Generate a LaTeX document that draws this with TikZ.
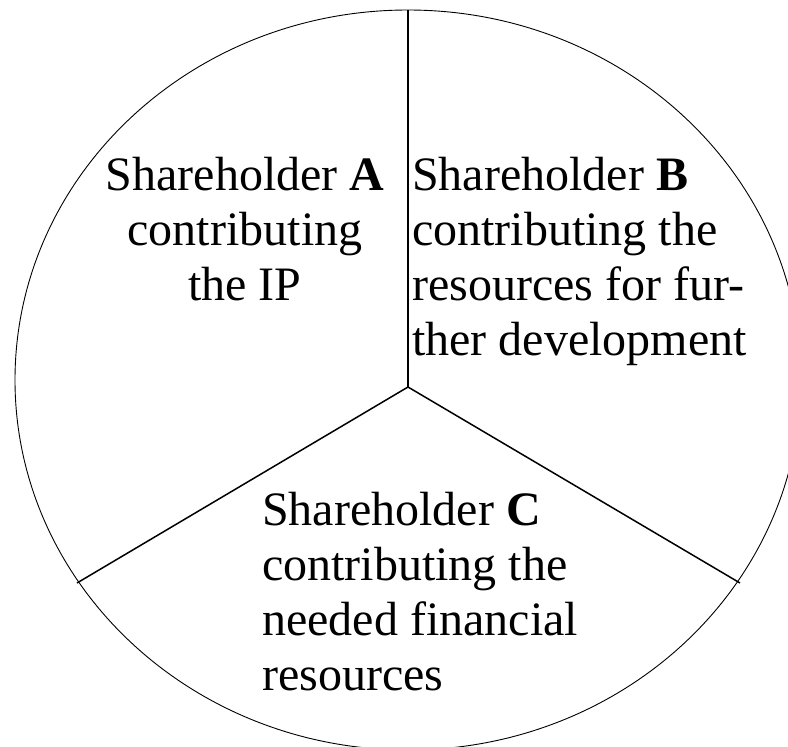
\documentclass[tikz,border=0pt]{standalone}
\usepackage{fontspec}
\setmainfont{Liberation Serif}
\begin{document}
\begin{tikzpicture}[x=1pt,y=-1pt,
  rim/.style={line width=0.9pt},
  spoke/.style={line width=1.5pt},
  label/.style={inner sep=0pt,font=\fontsize{48}{55}\selectfont}]
\useasboundingbox (0,0) rectangle (788,747);
\clip (0,0) rectangle (788,747);
\coordinate (mid) at (408,387);
\coordinate (ctr) at (408,380);
\coordinate (top) at (408,10);
\coordinate (lend) at (77,583);
\coordinate (rend) at (740,583);
\draw[rim] (ctr) ellipse [x radius=393pt, y radius=370pt];
\draw[spoke] (mid) -- (top);
\draw[spoke] (mid) -- (lend);
\draw[spoke] (mid) -- (rend);
\node[label,anchor=north,align=center] (A) at (245,157)
  {Shareholder \textbf{A}\\contributing\\the IP};
\node[label,anchor=north west,align=left] (B) at (412,157)
  {Shareholder \textbf{B}\\contributing the\\resources for fur-\\ther development};
\node[label,anchor=north west,align=left] (C) at (262,492)
  {Shareholder \textbf{C}\\contributing the\\needed financial\\resources};
\end{tikzpicture}
\end{document}
